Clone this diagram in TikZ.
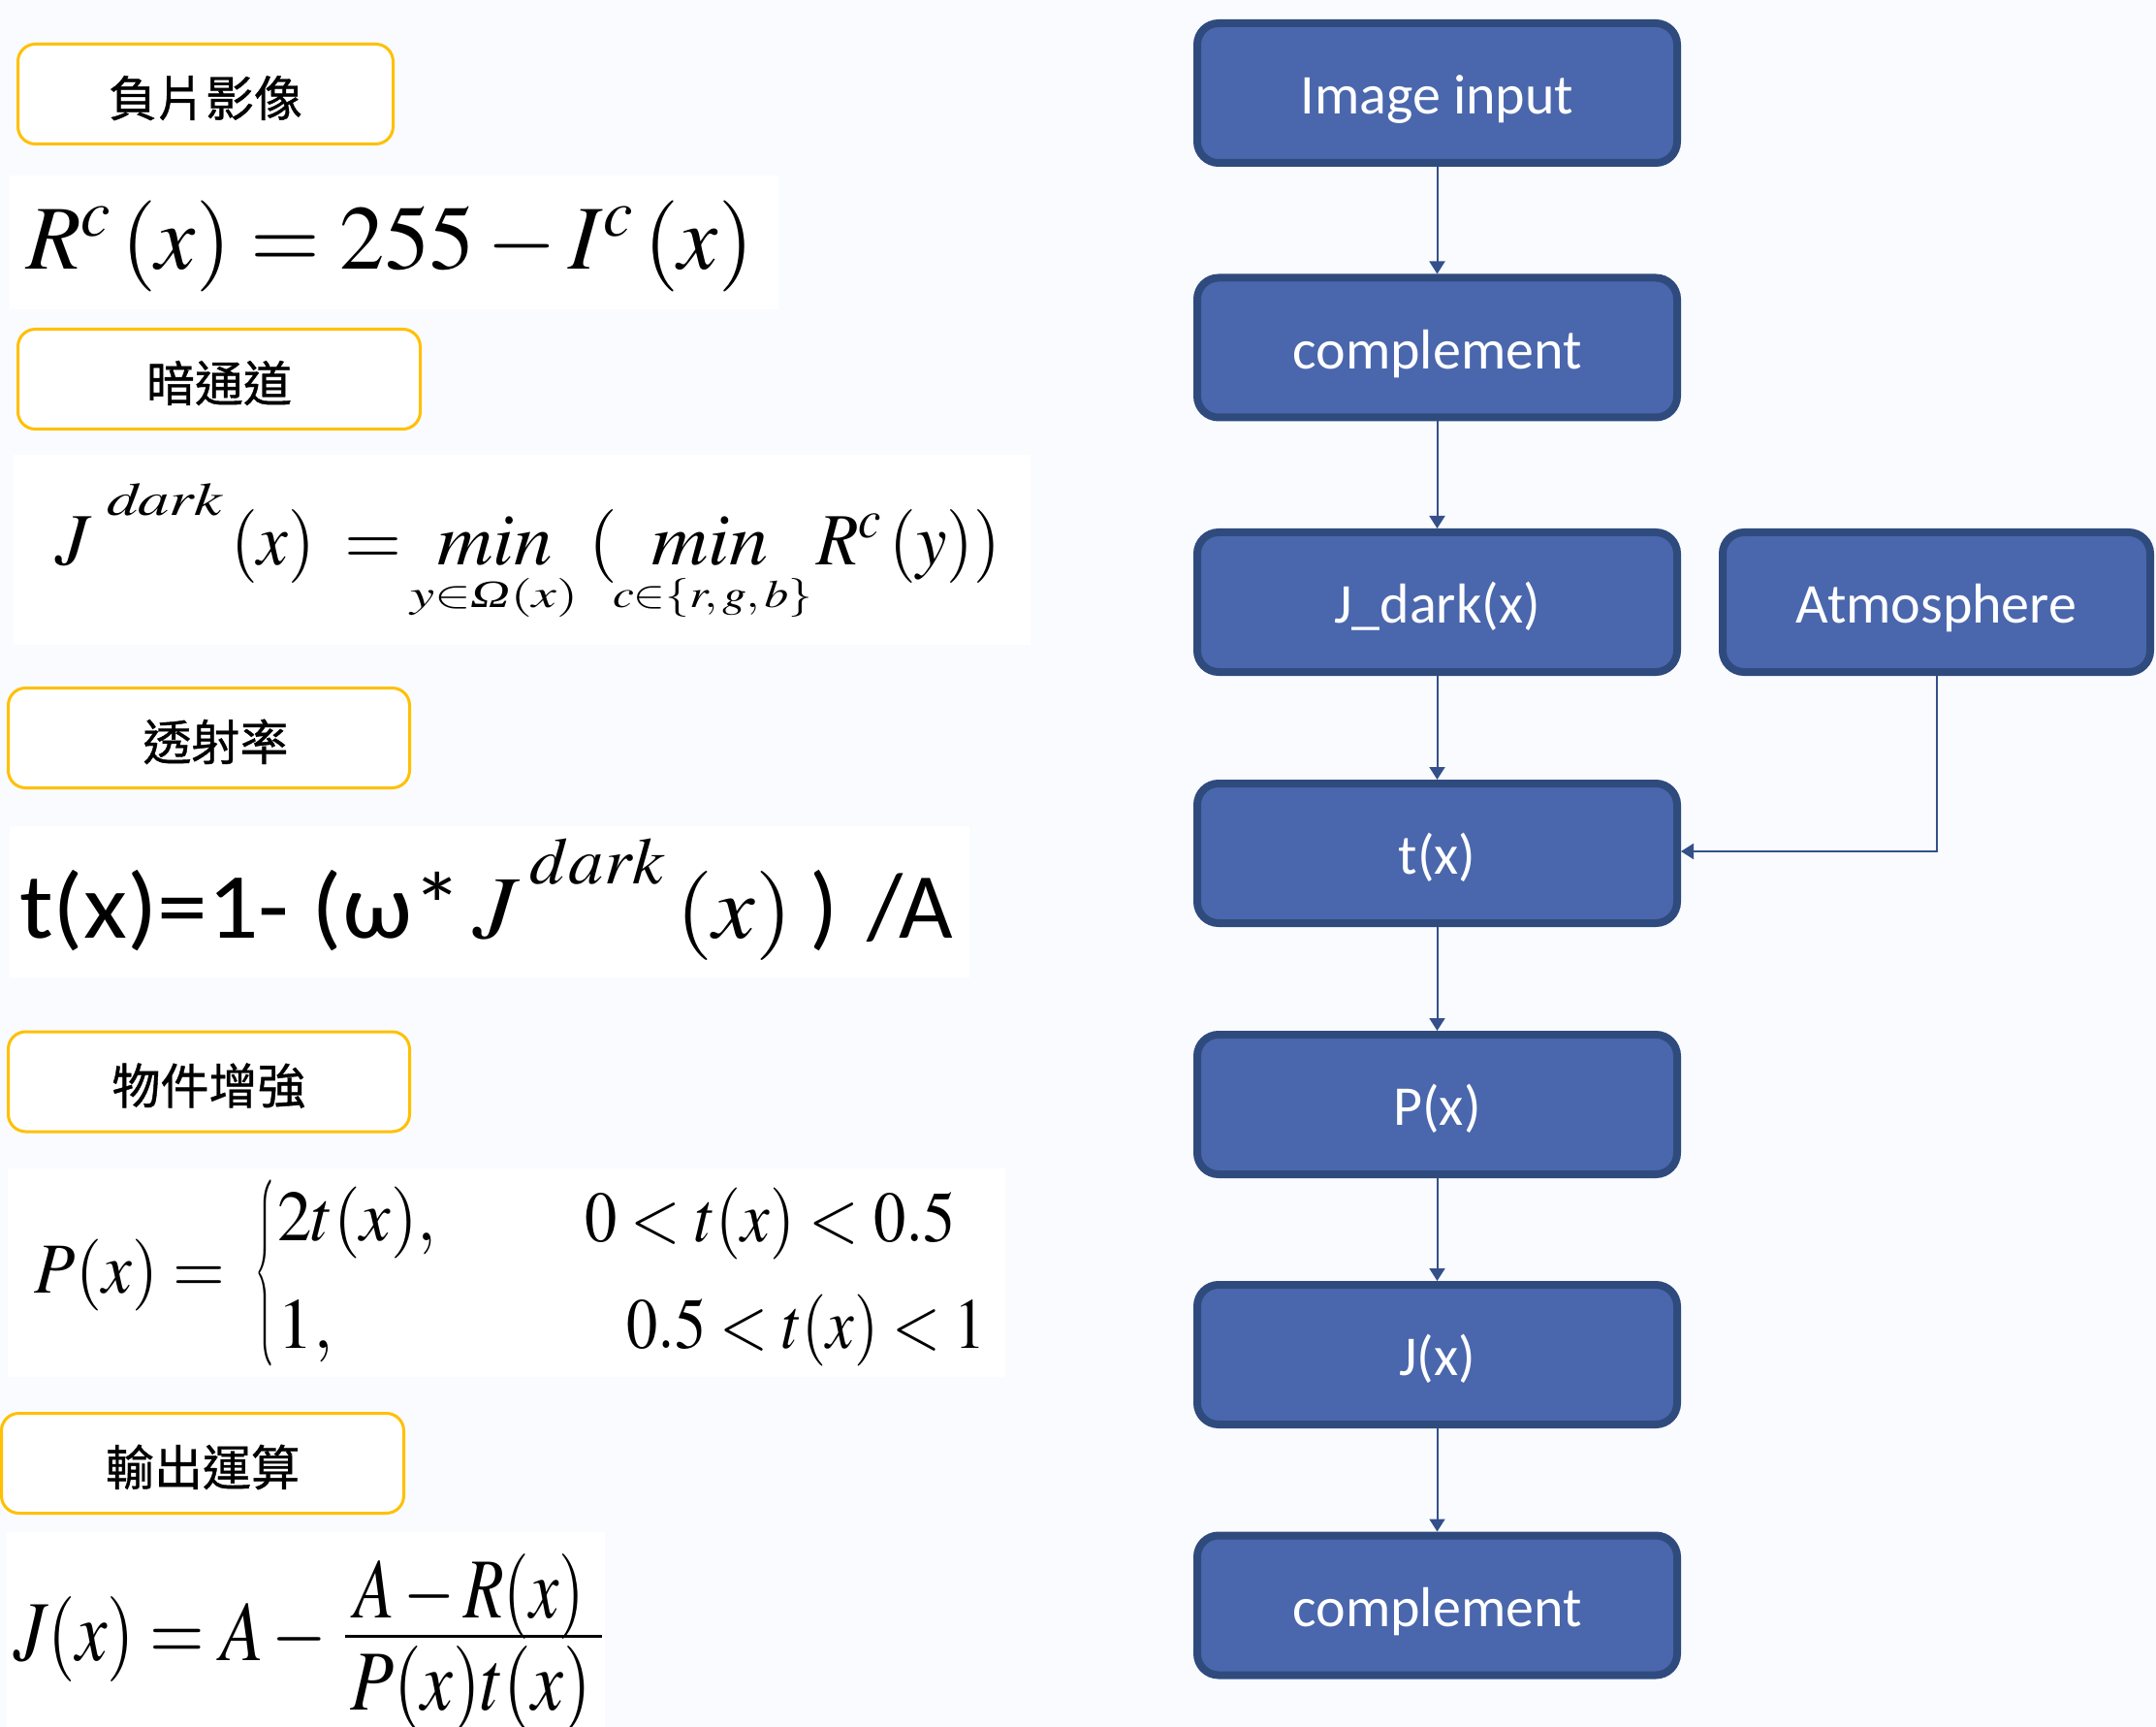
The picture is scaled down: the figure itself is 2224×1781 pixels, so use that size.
\documentclass[tikz,border=0pt]{standalone}
\usepackage{mathptmx}
\usepackage[no-math]{fontspec}
\usepackage{graphicx}
\newfontfamily\boxfont{Carlito}
\newfontfamily\tmsfont{Liberation Serif}
\newfontfamily\cjkfont[FakeBold=0.8]{Noto Sans CJK TC}
\usetikzlibrary{arrows.meta}
\definecolor{pagebg}{HTML}{FAFBFE}
\definecolor{boxfill}{HTML}{4A67AD}
\definecolor{boxline}{HTML}{2F4B7E}
\definecolor{arrowc}{HTML}{34508A}
\definecolor{labline}{HTML}{FFC000}
\begin{document}
\begin{tikzpicture}[x=0.5pt,y=-0.5pt,
  flowbox/.style={draw=boxline, line width=4pt, fill=boxfill, rounded corners=11pt,
    minimum width=247.5pt, minimum height=72pt, inner sep=0pt, text=white,
    text height=21.6pt, text depth=0pt,
    font=\boxfont\fontsize{29}{34}\selectfont},
  labbox/.style={draw=labline, line width=1.5pt, fill=white, rounded corners=9pt,
    minimum height=51.5pt, inner sep=0pt, text=black,
    text height=23pt, text depth=0pt,
    font=\cjkfont\fontsize{25}{30}\selectfont},
  flowarrow/.style={draw=arrowc, line width=1pt, -{Triangle[length=6.5pt,width=8pt]}},
  fpiece/.style={inner sep=0pt, outer sep=0pt, anchor=base west, text=black}]

\fill[pagebg] (0,0) rectangle (2224,1781);
\useasboundingbox (0,0) rectangle (2224,1781);

% white backgrounds of the formula images
\fill[white] (10,181) rectangle (803,319);
\fill[white] (14,469) rectangle (1063,665);
\fill[white] (10,852) rectangle (1000,1008);
\fill[white] (8,1205) rectangle (1037,1420);
\fill[white] (7,1580) rectangle (624,1781);

% label boxes
\node[labbox, minimum width=193.5pt] (lab1) at (212,97) {負片影像};
\node[labbox, minimum width=207.5pt] (lab2) at (226,391) {暗通道};
\node[labbox, minimum width=207pt] (lab3) at (215.5,761) {\hspace{7pt}透射率};
\node[labbox, minimum width=207pt] (lab4) at (215.5,1115.5) {物件增強};
\node[labbox, minimum width=207.5pt] (lab5) at (209,1509) {輸出運算};

% formula 1
\node[fpiece] (f1) at (27,278) {\resizebox{375pt}{\height}{\fontsize{47}{56}\selectfont$R^{c}\,(x)=255-I^{c}\,(x)$}};

% formula 2 (pieces)
\node[fpiece] (f2J)    at (57,582)  {\fontsize{38}{46}\selectfont$J$};
\node[fpiece] (f2dark) at (110,532) {\resizebox{60pt}{\height}{\fontsize{24}{29}\selectfont$\mathit{dark}$}};
\node[fpiece] (f2x)    at (238,582) {\resizebox{43.5pt}{\height}{\fontsize{38}{46}\selectfont$(x)$}};
\node[fpiece] (f2eq)   at (355,582) {\fontsize{38}{46}\selectfont$=$};
\node[fpiece] (f2min1) at (451,582) {\resizebox{59.5pt}{\height}{\fontsize{38}{46}\selectfont$\mathit{min}$}};
\node[fpiece] (f2sub1) at (423,627) {\resizebox{86.5pt}{\height}{\fontsize{20}{24}\selectfont$y{\in}\mbox{\tmsfont\itshape Ω}(x)$}};
\node[fpiece] (f2lp)   at (607,582) {\fontsize{38}{46}\selectfont$($};
\node[fpiece] (f2min2) at (672,582) {\resizebox{60.5pt}{\height}{\fontsize{38}{46}\selectfont$\mathit{min}$}};
\node[fpiece] (f2sub2) at (632,627) {\resizebox{103pt}{\height}{\fontsize{20}{24}\selectfont$c{\in}\{r,g,b\}$}};
\node[fpiece] (f2R)    at (842,582) {\resizebox{95pt}{\height}{\fontsize{38}{46}\selectfont$R^{c}\,(y))$}};

% formula 3
\node[fpiece] (f3a) at (20,967) {\resizebox{228.5pt}{\height}{\boxfont\fontsize{48}{58}\selectfont t(x)=1- (ω*}};
\node[fpiece] (f3b) at (488,967) {\resizebox{164.5pt}{\height}{\fontsize{46}{55}\selectfont$J\,\raisebox{0.6em}{$\scriptstyle dark$}\,(x)$}};
\node[fpiece] (f3c) at (835,967) {\boxfont\fontsize{48}{58}\selectfont )};
\node[fpiece] (f3d) at (894,967) {\boxfont\fontsize{48}{58}\selectfont /A};

% formula 4
\node[fpiece] (f4a) at (36,1333) {\resizebox{98pt}{\height}{\fontsize{37}{44}\selectfont$P(x)=$}};
\node[inner sep=0pt, outer sep=0pt] (f4brace) at (273,1314.5) {\resizebox*{10pt}{97.5pt}{\fontsize{37}{44}\selectfont\nulldelimiterspace=0pt$\left\{\vrule height 48pt depth 48pt width 0pt\right.$}};
\node[fpiece] (f4b) at (286,1279) {\resizebox{82pt}{\height}{\fontsize{37}{44}\selectfont$2t(x),$}};
\node[fpiece] (f4c) at (286,1390) {\fontsize{37}{44}\selectfont$1,$};
\node[fpiece] (f4d) at (603,1280) {\resizebox{191.5pt}{\height}{\fontsize{37}{44}\selectfont$0<t(x)<0.5$}};
\node[fpiece] (f4e) at (646,1390) {\resizebox{185.5pt}{\height}{\fontsize{37}{44}\selectfont$0.5<t(x)<1$}};

% formula 5
\node[fpiece] (f5a) at (14,1712) {\resizebox{161.5pt}{\height}{\fontsize{44}{52}\selectfont$J(x)=A\,-$}};
\node[fpiece] (f5b) at (365,1668) {\resizebox{119pt}{\height}{\fontsize{44}{52}\selectfont$A-R(x)$}};
\node[fpiece] (f5c) at (361,1763) {\resizebox{124.5pt}{\height}{\fontsize{44}{52}\selectfont$P(x)t(x)$}};
\draw[line width=1.5pt] (356,1687) -- (621,1687);

% flowchart
\node[flowbox] (img)   at (1482.5,96)    {Image input};
\node[flowbox] (comp1) at (1482.5,358.5) {complement};
\node[flowbox] (jdark) at (1482.5,621)   {J\_dark(x)};
\node[flowbox, minimum width=220.5pt] (atm) at (1997.5,621) {Atmosphere};
\node[flowbox] (tx)    at (1482.5,880)   {t(x)};
\node[flowbox] (px)    at (1482.5,1139)  {P(x)};
\node[flowbox] (jx)    at (1482.5,1397)  {J(x)};
\node[flowbox] (comp2) at (1482.5,1655.5){complement};

\coordinate (tin) at ([yshift=1pt]tx.east);

\draw[flowarrow] (img.south) -- (comp1.north);
\draw[flowarrow] (comp1.south) -- (jdark.north);
\draw[flowarrow] (jdark.south) -- (tx.north);
\draw[flowarrow] (atm.south) |- (tin);
\draw[flowarrow] (tx.south) -- (px.north);
\draw[flowarrow] (px.south) -- (jx.north);
\draw[flowarrow] (jx.south) -- (comp2.north);
\end{tikzpicture}
\end{document}
